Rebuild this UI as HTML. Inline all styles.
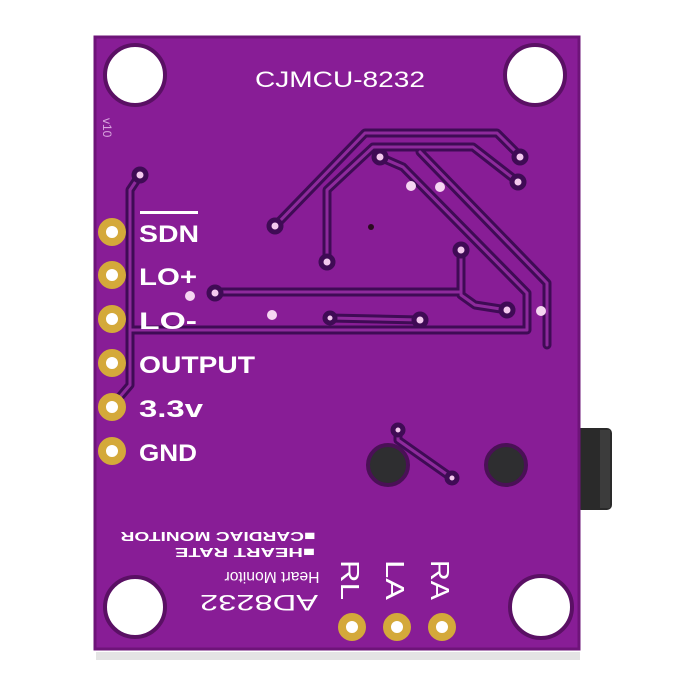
<!DOCTYPE html><html><head><meta charset="utf-8"><style>body{margin:0;background:#fff}svg{display:block}</style></head><body>
<svg width="700" height="700" viewBox="0 0 700 700" xmlns="http://www.w3.org/2000/svg" font-family="Liberation Sans, sans-serif" font-weight="bold">
<rect x="0" y="0" width="700" height="700" fill="#fff"/>
<rect x="96" y="652" width="484" height="8" fill="#e4e4e4"/>
<rect x="576" y="428" width="36" height="82" rx="5" fill="#2a2a2a"/>
<rect x="600" y="430" width="10" height="78" fill="#3c3c3c"/>
<rect x="95" y="37" width="484" height="612" fill="#881d96"/>
<rect x="95" y="37" width="484" height="612" fill="none" stroke="#6e1479" stroke-width="3"/>
<g fill="#fff" stroke="#5a1064" stroke-width="4">
<circle cx="135" cy="75" r="30"/><circle cx="535" cy="75" r="30"/>
<circle cx="135" cy="607" r="30"/><circle cx="541" cy="607" r="31"/>
</g>
<g fill="none" stroke-linejoin="round" stroke-linecap="round">
<g stroke="#3f0b55" stroke-width="9">
<polyline points="275,226 365,133 497,133 521,157"/>
<polyline points="327,262 327,190 373,147 473,147 518,182"/>
<polyline points="380,157 403,167 527,293 527,330 130,330"/>
<polyline points="420,152 547,283 547,345"/>
<polyline points="461,250 461,295 475,305 507,310"/>
<polyline points="215,292 461,292"/>
<polyline points="330,318 420,320"/>
<polyline points="140,175 130,190 130,385 112,406"/>
<polyline points="398,430 398,440 452,478"/>
</g>
<g stroke="#8e2a9c" stroke-width="3">
<polyline points="275,226 365,133 497,133 521,157"/>
<polyline points="327,262 327,190 373,147 473,147 518,182"/>
<polyline points="380,157 403,167 527,293 527,330 130,330"/>
<polyline points="420,152 547,283 547,345"/>
<polyline points="461,250 461,295 475,305 507,310"/>
<polyline points="215,292 461,292"/>
<polyline points="330,318 420,320"/>
<polyline points="140,175 130,190 130,385 112,406"/>
<polyline points="398,430 398,440 452,478"/>
</g>
</g>
<g fill="#f3c8ee" stroke="#3f0b55" stroke-width="5">
<circle cx="140" cy="175" r="6"/><circle cx="380" cy="157" r="6"/><circle cx="520" cy="157" r="6"/>
<circle cx="518" cy="182" r="6"/><circle cx="275" cy="226" r="6"/><circle cx="327" cy="262" r="6"/>
<circle cx="461" cy="250" r="6"/><circle cx="215" cy="293" r="6"/><circle cx="420" cy="320" r="6"/>
<circle cx="507" cy="310" r="6"/><circle cx="330" cy="318" r="5"/><circle cx="398" cy="430" r="5"/><circle cx="452" cy="478" r="5"/>
</g>
<g fill="#f6d6f2"><circle cx="411" cy="186" r="5"/><circle cx="440" cy="187" r="5"/><circle cx="190" cy="296" r="5"/>
<circle cx="272" cy="315" r="5"/><circle cx="541" cy="311" r="5"/></g>
<circle cx="371" cy="227" r="3" fill="#2a0a20"/>
<circle cx="388" cy="465" r="20" fill="#2e2e30" stroke="#4a1056" stroke-width="4"/>
<circle cx="506" cy="465" r="20" fill="#2e2e30" stroke="#4a1056" stroke-width="4"/>
<g fill="#fff" stroke="#d4a93a" stroke-width="8">
<circle cx="112" cy="232" r="10"/><circle cx="112" cy="275" r="10"/><circle cx="112" cy="319" r="10"/>
<circle cx="112" cy="363" r="10"/><circle cx="112" cy="407" r="10"/><circle cx="112" cy="451" r="10"/>
<circle cx="352" cy="627" r="10"/><circle cx="397" cy="627" r="10"/><circle cx="442" cy="627" r="10"/>
</g>
<g fill="#fff">
<text x="255" y="87" font-size="22" font-weight="normal" textLength="170" lengthAdjust="spacingAndGlyphs">CJMCU-8232</text>
<rect x="140" y="211" width="58" height="3"/>
<text x="139" y="242" font-size="24" textLength="60" lengthAdjust="spacingAndGlyphs">SDN</text>
<text x="139" y="285" font-size="24" textLength="58" lengthAdjust="spacingAndGlyphs">LO+</text>
<text x="139" y="329" font-size="24" textLength="58" lengthAdjust="spacingAndGlyphs">LO-</text>
<text x="139" y="373" font-size="24" textLength="116" lengthAdjust="spacingAndGlyphs">OUTPUT</text>
<text x="139" y="417" font-size="24" textLength="64" lengthAdjust="spacingAndGlyphs">3.3v</text>
<text x="139" y="461" font-size="24" textLength="58" lengthAdjust="spacingAndGlyphs">GND</text>
<text transform="translate(103,118) rotate(90)" font-size="12" font-weight="normal" fill="#d9a6df">v10</text>
<text transform="translate(218,537) rotate(180)" text-anchor="middle" dy="5" font-size="13" textLength="195" lengthAdjust="spacingAndGlyphs">■CARDIAC MONITOR</text>
<text transform="translate(245,553) rotate(180)" text-anchor="middle" dy="5" font-size="13" textLength="140" lengthAdjust="spacingAndGlyphs">■HEART RATE</text>
<text transform="translate(272,578) rotate(180)" text-anchor="middle" dy="6" font-size="16" font-weight="normal" textLength="95" lengthAdjust="spacingAndGlyphs">Heart Monitor</text>
<text transform="translate(259,603) rotate(180)" text-anchor="middle" dy="8" font-size="22" font-weight="normal" textLength="118" lengthAdjust="spacingAndGlyphs">AD8232</text>
<g font-size="26" font-weight="normal">
<text transform="translate(341,560) rotate(90)" textLength="40" lengthAdjust="spacingAndGlyphs">RL</text>
<text transform="translate(386,560) rotate(90)" textLength="40" lengthAdjust="spacingAndGlyphs">LA</text>
<text transform="translate(431,560) rotate(90)" textLength="40" lengthAdjust="spacingAndGlyphs">RA</text>
</g>
</g>
</svg>
</body></html>
